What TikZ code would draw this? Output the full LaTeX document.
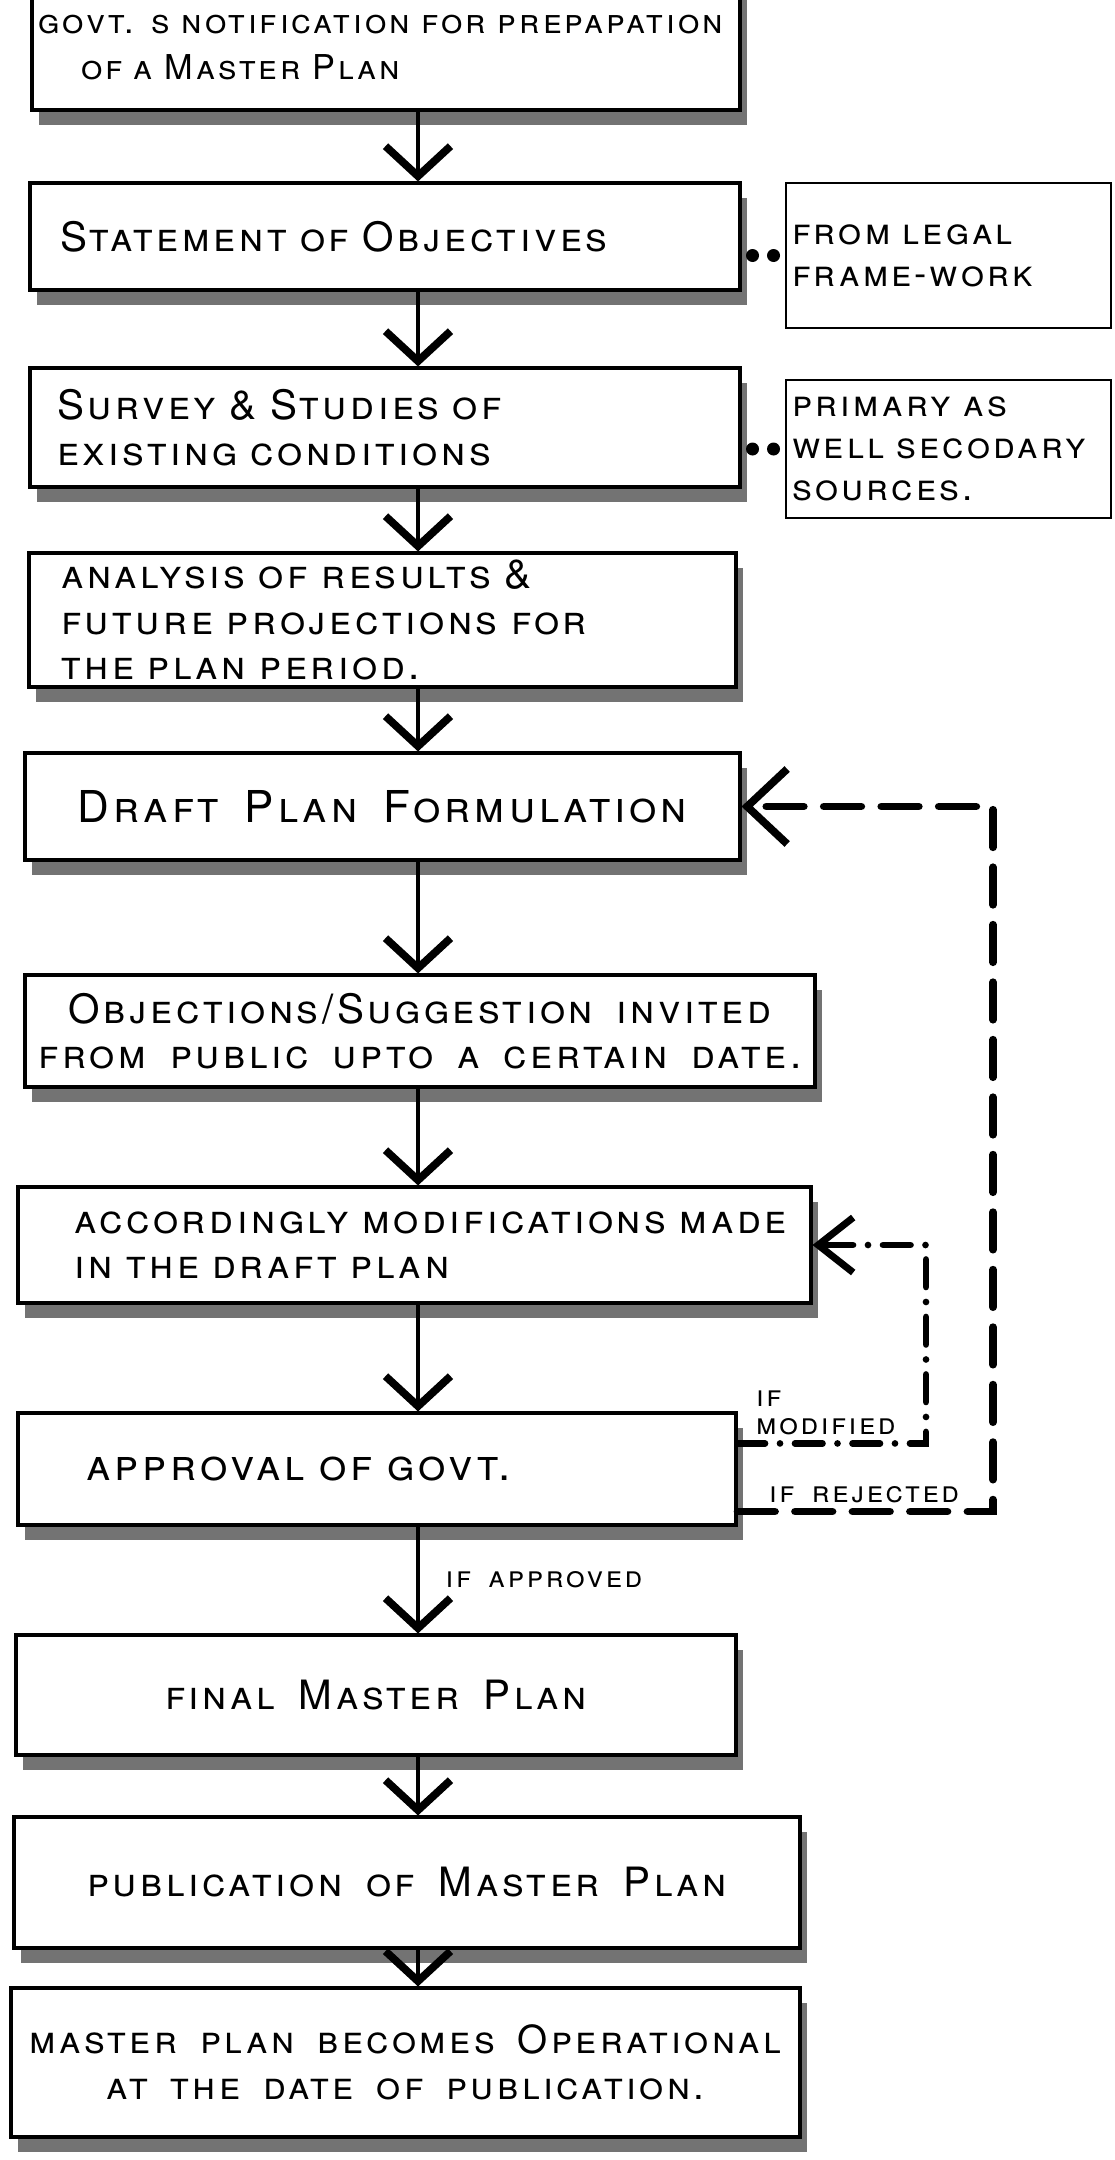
\documentclass[tikz,border=0pt]{standalone}
\usepackage{fontspec}
\setmainfont{TeX Gyre Heros}
\newfontfamily\handfont[LetterSpace=9, WordSpace=1.6]{TeX Gyre Heros}
\usetikzlibrary{arrows.meta, shadows}

\newcommand{\stagefont}{\handfont\fontsize{23}{26}\selectfont\scshape}
\newcommand{\sourcefont}{\handfont\fontsize{21}{24}\selectfont\scshape}
\newcommand{\flagfont}{\handfont\fontsize{17}{16}\selectfont\scshape}

\tikzstyle{stage} = [rectangle, draw, line width=1.8pt, fill=white, align=center, font=\stagefont, drop shadow={shadow xshift=0.14cm, shadow yshift=-0.3cm, fill=black!55, opacity=1}]
\tikzstyle{leftstage} = [stage, align=left]
\tikzstyle{source} = [rectangle, draw, line width=1.6pt, fill=white, align=left, font=\sourcefont, inner xsep=0.12cm]
\tikzstyle{flow} = [line width=2.8pt, ->, >={Straight Barb[length=0.6cm, width=1.3cm, line width=4.4pt]}]
\tikzstyle{link} = [line width=0.26cm, line cap=round, dash pattern=on 0pt off 0.42cm, shorten <=0.22cm, shorten >=0.22cm]
\tikzstyle{rejected} = [line width=4.4pt, line cap=round, dash pattern=on 0.75cm off 0.4cm, ->, >={Straight Barb[length=0.8cm, width=1.5cm, line width=4.4pt]}]
\tikzstyle{modified} = [line width=3.8pt, line cap=round, dash pattern=on 0.55cm off 0.3cm on 0pt off 0.3cm, ->, >={Straight Barb[length=0.7cm, width=1.1cm, line width=4pt]}]
\tikzstyle{flag} = [font=\flagfont, inner sep=3pt]

\begin{document}
\begin{tikzpicture}[x=0.02cm, y=-0.02cm]
    \useasboundingbox (0,0) rectangle (1115,2160);
    \clip (0,0) rectangle (1115,2160);
    \coordinate (spine) at (418,0);
    \coordinate (loopm) at (926,0);
    \coordinate (loopr) at (993,0);

    \node [leftstage, font={\stagefont\fontsize{19.5}{26}\selectfont}, minimum width=14.16cm, minimum height=2.5cm, text width=13.9cm, inner xsep=0.13cm] at (386,47.5) (notify) {\mbox{govt. s notification for prepapation}\\ \hspace*{0.85cm}of a Master Plan};
    \node [leftstage, minimum width=14.2cm, minimum height=2.14cm, text width=13cm, inner xsep=0.6cm] at (385,236.5) (objectives) {Statement of Objectives};
    \node [source, minimum width=6.5cm, minimum height=2.9cm, text width=6.26cm] at (948.5,255.5) (legal) {from legal\\ frame-work};
    \node [leftstage, minimum width=14.2cm, minimum height=2.38cm, text width=13.12cm, inner xsep=0.54cm] at (385,427.5) (survey) {Survey \& Studies of\\ existing conditions};
    \node [source, minimum width=6.5cm, minimum height=2.76cm, text width=6.26cm] at (948.5,449) (sources) {primary as\\ \mbox{well secodary}\\ sources.};
    \node [leftstage, minimum width=14.14cm, minimum height=2.68cm, text width=12.86cm, inner xsep=0.64cm] at (382.5,620) (analysis) {analysis of results \&\\ future projections for\\ the plan period.};
    \node [stage, font={\stagefont\fontsize{25}{28}\selectfont}, minimum width=14.3cm, minimum height=2.14cm] at (382.5,806.5) (draft) {Draft Plan Formulation};
    \node [stage, minimum width=15.8cm, minimum height=2.24cm] at (420,1031) (objections) {Objections/Suggestion invited\\ from public upto a certain date.};
    \node [leftstage, minimum width=15.86cm, minimum height=2.32cm, text width=13.6cm, inner xsep=1.13cm] at (414.5,1245) (modify) {\mbox{accordingly modifications made}\\ in the draft plan};
    \node [leftstage, font={\stagefont\fontsize{25}{28}\selectfont}, minimum width=14.36cm, minimum height=2.24cm, text width=11.64cm, inner xsep=1.36cm] at (377,1469) (approval) {approval of govt.};
    \node [stage, minimum width=14.4cm, minimum height=2.4cm] at (376,1695) (final) {final Master Plan};
    \node [stage, minimum width=15.72cm, minimum height=2.62cm] at (407,1882.5) (publish) {publication of Master Plan};
    \node [stage, font={\stagefont\fontsize{22}{26}\selectfont}, minimum width=15.78cm, minimum height=2.98cm, inner xsep=0.1cm] at (405.5,2062.5) (operate) {master plan becomes Operational\\ at the date of publication.};

    \draw [link] (objectives.east |- legal.west) -- (legal.west);
    \draw [link] (survey.east |- sources.west) -- (sources.west);

    \draw [flow] (notify.south -| spine) -- (objectives.north -| spine);
    \draw [flow] (objectives.south -| spine) -- (survey.north -| spine);
    \draw [flow] (survey.south -| spine) -- (analysis.north -| spine);
    \draw [flow] (analysis.south -| spine) -- (draft.north -| spine);
    \draw [flow] (draft.south -| spine) -- (objections.north -| spine);
    \draw [flow] (objections.south -| spine) -- (modify.north -| spine);
    \draw [flow] (modify.south -| spine) -- (approval.north -| spine);
    \draw [flow] (approval.south -| spine) -- node [flag, right=0.4cm] {if approved} (final.north -| spine);
    \draw [flow] (final.south -| spine) -- (publish.north -| spine);
    \draw [flow] (publish.south -| spine) -- (operate.north -| spine);

    \draw [modified] ([yshift=-0.64cm]approval.north east) node [flag, anchor=south west, xshift=0.2cm, align=left] {if\\ modified} -| (loopm |- modify.east) -- (modify.east);
    \draw [rejected] ([yshift=0.3cm]approval.south east) node [flag, anchor=south west, xshift=0.45cm] {if rejected} -| (loopr |- draft.east) -- (draft.east);
\end{tikzpicture}
\end{document}
